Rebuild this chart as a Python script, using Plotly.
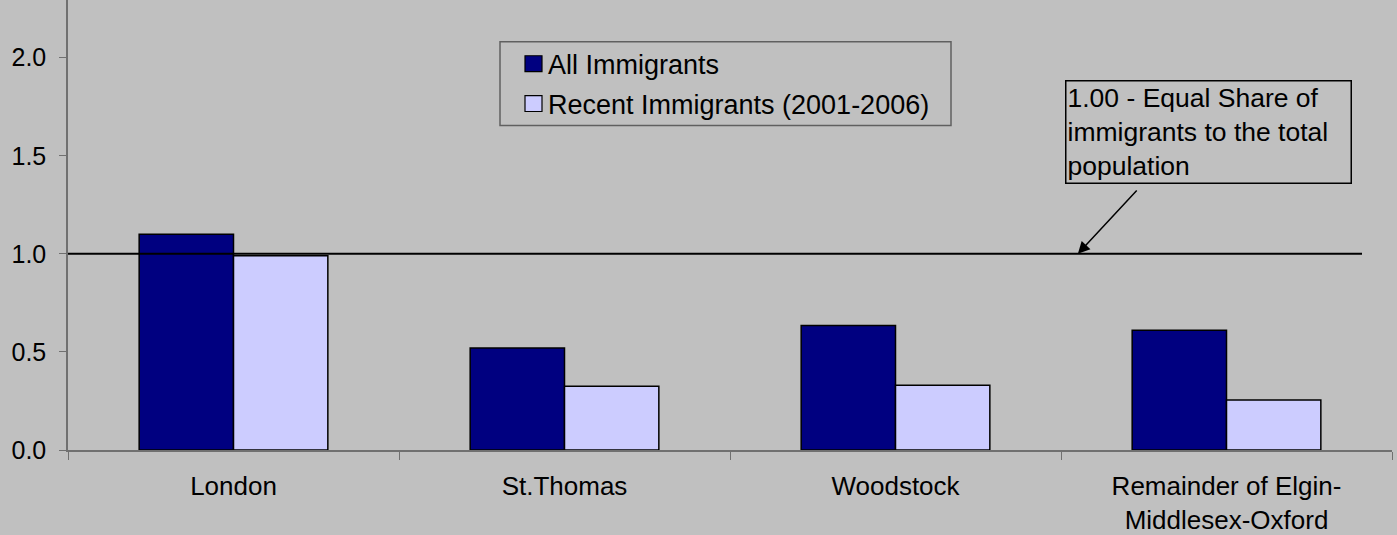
import plotly.graph_objects as go

categories = ["London", "St.Thomas", "Woodstock", "Remainder of Elgin-<br>Middlesex-Oxford"]
all_immigrants = [1.10, 0.52, 0.635, 0.61]
recent_immigrants = [0.99, 0.325, 0.33, 0.255]
series_names = ["All Immigrants", "Recent Immigrants (2001-2006)"]
series_colors = ["#000080", "#ccccff"]
y_ticks = [0.0, 0.5, 1.0, 1.5, 2.0]
equal_share = 1.0
note_text = "1.00 - Equal Share of<br>immigrants to the total<br>population"

BG = "#c0c0c0"
FONT = "Liberation Sans, Arial, sans-serif"

# plot area in pixels
L, R, T, B = 68, 1392, 0, 452


def px_x(p):
    return (p - L) / (R - L)


def px_y(p):
    return 1 - (p - T) / (B - T)


fig = go.Figure()
for vals, name, col in zip([all_immigrants, recent_immigrants], series_names, series_colors):
    fig.add_trace(go.Bar(x=categories, y=vals, name=name, showlegend=False,
                         marker=dict(color=col, line=dict(color="#000000", width=1.5))))

fig.add_shape(type="line", xref="paper", yref="y", x0=0, x1=px_x(1362), y0=equal_share, y1=equal_share,
              line=dict(color="#000000", width=2), layer="above")

# legend (drawn manually to match box proportions)
fig.add_shape(type="rect", xref="paper", yref="paper", x0=px_x(500), x1=px_x(951),
              y0=px_y(42), y1=px_y(126), line=dict(color="#606060", width=1.5),
              fillcolor=BG, layer="above")
for i, (name, col) in enumerate(zip(series_names, series_colors)):
    cy = 64 + 40 * i
    fig.add_shape(type="rect", xref="paper", yref="paper", x0=px_x(525), x1=px_x(542),
                  y0=px_y(cy - 8), y1=px_y(cy + 8), line=dict(color="#000000", width=1.2),
                  fillcolor=col, layer="above")
    fig.add_annotation(xref="paper", yref="paper", x=px_x(546), y=px_y(cy + 1),
                       xanchor="left", yanchor="middle", text=name, showarrow=False,
                       font=dict(size=27, color="#000000", family=FONT))

# text box
fig.add_annotation(xref="paper", yref="paper", x=px_x(1065), y=px_y(80),
                   xanchor="left", yanchor="top", text=note_text, showarrow=False,
                   align="left", font=dict(size=26.5, color="#000000", family=FONT),
                   bordercolor="#000000", borderwidth=1.5, borderpad=1, bgcolor=BG,
                   width=282)
# arrow
fig.add_annotation(xref="x", yref="y", x=2.551, y=equal_share,
                   axref="x", ayref="y", ax=2.733, ay=1.33, text="",
                   showarrow=True, arrowhead=2, arrowsize=1.6, arrowwidth=1.5,
                   arrowcolor="#000000", standoff=0, startstandoff=0)

fig.update_layout(
    width=1397, height=535,
    paper_bgcolor=BG, plot_bgcolor=BG,
    margin=dict(l=L, r=1397 - R, t=T, b=535 - B),
    barmode="group", bargap=0.43, bargroupgap=0,
    font=dict(family=FONT, size=25, color="#000000"),
    showlegend=False,
)
fig.update_xaxes(showline=True, linecolor="#707070", linewidth=1.5,
                 ticks="outside", tickson="boundaries", ticklen=8, tickcolor="#707070",
                 tickfont=dict(size=26), ticklabelstandoff=12, showgrid=False, zeroline=False)
fig.update_yaxes(range=[0, 2.294], showline=True, linecolor="#707070", linewidth=1.5,
                 ticks="outside", ticklen=7, tickcolor="#707070",
                 tickvals=y_ticks, tickformat=".1f", tickfont=dict(size=25),
                 ticklabelstandoff=8, showgrid=False, zeroline=False)

fig.write_html("out.html", config={"displayModeBar": False},
               post_script="document.body.style.margin='0px';document.body.style.background='#c0c0c0';")
